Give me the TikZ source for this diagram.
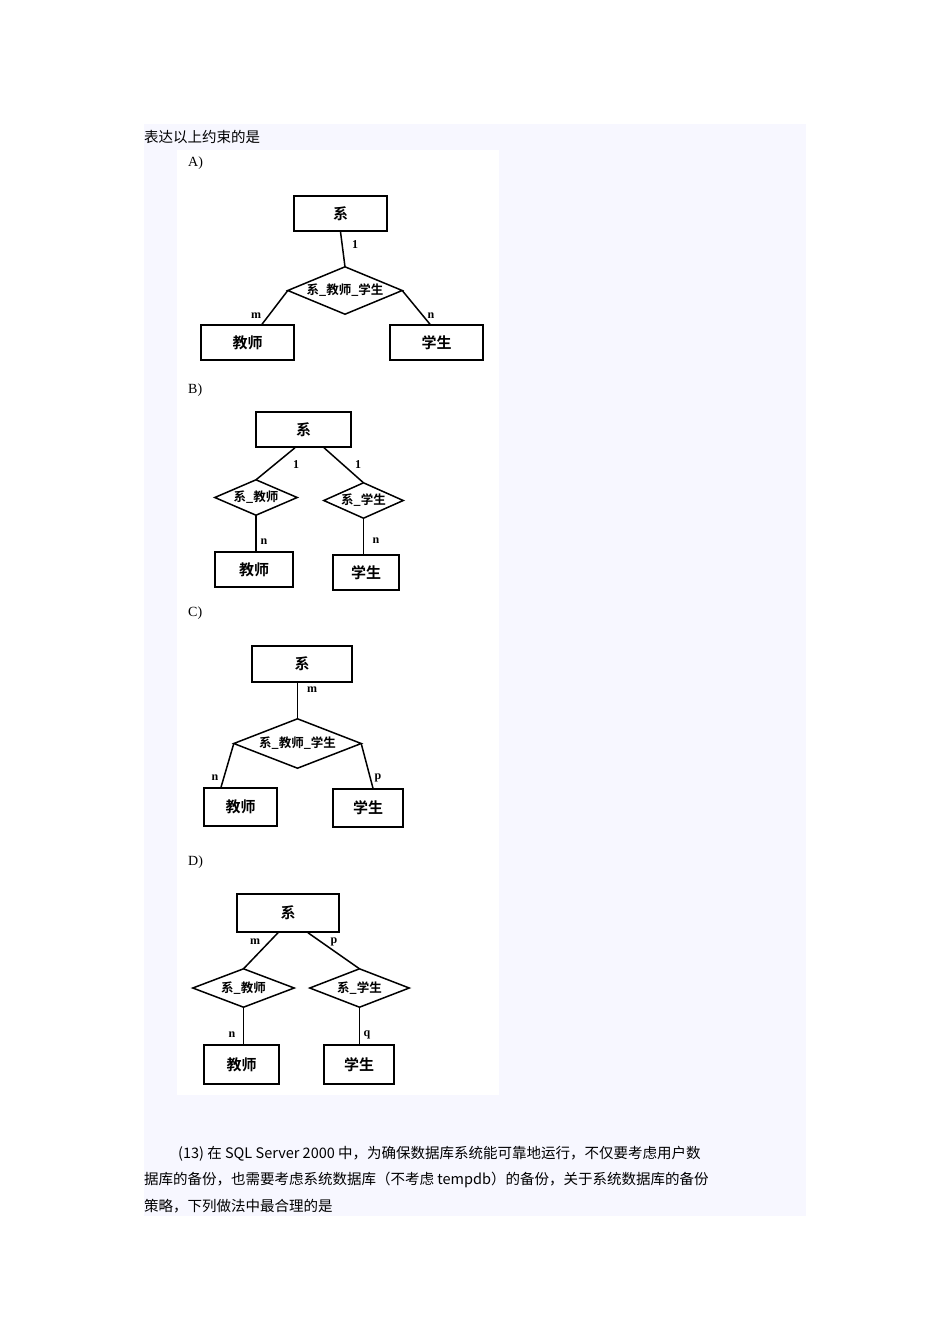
\documentclass[tikz,border=0pt]{standalone}
\usepackage{fontspec}
\setmainfont{DejaVu Sans}
\newfontfamily\cj{Noto Sans CJK SC}
\newfontfamily\cjb{Noto Sans CJK SC Bold}
\newfontfamily\serifx{Liberation Serif}
\begin{document}
\begin{tikzpicture}[x=1pt,y=-1pt,
  ent/.style={draw,line width=1.5pt,rectangle,inner sep=0pt,font=\cjb\fontsize{15}{15}\selectfont},
  rel/.style={rectangle,inner sep=0pt,font=\cjb\fontsize{12.5}{12.5}\selectfont},
  ln/.style={line width=1.5pt,line join=miter},
  lab/.style={font=\serifx\fontsize{12}{12}\selectfont\bfseries,inner sep=0pt},
  partlab/.style={font=\serifx\fontsize{14}{14}\selectfont,anchor=west,inner sep=0pt},
  txt/.style={font=\cj\fontsize{14.5}{14.5}\selectfont,anchor=west,inner sep=0pt}]
\useasboundingbox (0,0) rectangle (950,1344);
\fill[white] (0,0) rectangle (950,1344);
\fill[blue!3!white] (144,124) rectangle (806,1216);
\fill[white] (177,150) rectangle (499,1095);
\node[txt] (h) at (144,137) {表达以上约束的是};
% A
\node[partlab] (ca) at (188,163) {A)};
\node[ent,minimum width=93,minimum height=35] (a1) at (340.5,213.5) {系};
\node[rel,minimum width=114,minimum height=47] (ad) at (345,290.5) {系\_教师\_学生};
\draw[ln] (ad.north) -- (ad.east) -- (ad.south) -- (ad.west) -- cycle;
\node[ent,minimum width=93,minimum height=35] (a2) at (247.5,342.5) {教师};
\node[ent,minimum width=93,minimum height=35] (a3) at (436.5,342.5) {学生};
\draw[ln] (a1.south) -- (ad.north);
\draw[ln] (ad.west) -- ([xshift=14.5]a2.north);
\draw[ln] (ad.east) -- ([xshift=-6.5]a3.north);
\node[lab] (la1) at (355,245) {1};
\node[lab] (la2) at (256,316) {m};
\node[lab] (la3) at (431,316) {n};
% B
\node[partlab] (cb) at (188,390) {B)};
\node[ent,minimum width=95,minimum height=35] (b1) at (303.5,429.5) {系};
\node[rel,minimum width=82,minimum height=35] (bd1) at (256,497.5) {系\_教师};
\draw[ln] (bd1.north) -- (bd1.east) -- (bd1.south) -- (bd1.west) -- cycle;
\node[rel,minimum width=79,minimum height=35] (bd2) at (363.5,500.5) {系\_学生};
\draw[ln] (bd2.north) -- (bd2.east) -- (bd2.south) -- (bd2.west) -- cycle;
\node[ent,minimum width=78,minimum height=35] (b2) at (254,569.5) {教师};
\node[ent,minimum width=66,minimum height=35] (b3) at (366,572.5) {学生};
\draw[ln] ([xshift=-8.5]b1.south) -- (bd1.north);
\draw[ln] ([xshift=20.5]b1.south) -- (bd2.north);
\draw[ln] (bd1.south) -- (bd1.south |- b2.north);
\draw[ln] (bd2.south) -- (bd2.south |- b3.north);
\node[lab] (lb1) at (296,465) {1};
\node[lab] (lb2) at (358,465) {1};
\node[lab] (lb3) at (264,542) {n};
\node[lab] (lb4) at (376,541) {n};
% C
\node[partlab] (cc) at (188,613) {C)};
\node[ent,minimum width=100,minimum height=36] (c1) at (302,664) {系};
\node[rel,minimum width=127,minimum height=49] (cd) at (297.5,743.5) {系\_教师\_学生};
\draw[ln] (cd.north) -- (cd.east) -- (cd.south) -- (cd.west) -- cycle;
\node[ent,minimum width=73,minimum height=38] (c2) at (240.5,807) {教师};
\node[ent,minimum width=70,minimum height=38] (c3) at (368,808) {学生};
\draw[ln] (cd.north) -- (cd.north |- c1.south);
\draw[ln] (cd.west) -- ([xshift=-19.5]c2.north);
\draw[ln] (cd.east) -- ([xshift=5]c3.north);
\node[lab] (lc1) at (312,690) {m};
\node[lab] (lc2) at (215,778) {n};
\node[lab] (lc3) at (378,778) {p};
% D
\node[partlab] (cd0) at (188,862) {D)};
\node[ent,minimum width=102,minimum height=38] (d1) at (288,913) {系};
\node[rel,minimum width=101,minimum height=38] (dd1) at (243.5,988) {系\_教师};
\draw[ln] (dd1.north) -- (dd1.east) -- (dd1.south) -- (dd1.west) -- cycle;
\node[rel,minimum width=99,minimum height=38] (dd2) at (359.5,988) {系\_学生};
\draw[ln] (dd2.north) -- (dd2.east) -- (dd2.south) -- (dd2.west) -- cycle;
\node[ent,minimum width=75,minimum height=39] (d2) at (241.5,1064.5) {教师};
\node[ent,minimum width=70,minimum height=39] (d3) at (359,1064.5) {学生};
\draw[ln] ([xshift=-10]d1.south) -- (dd1.north);
\draw[ln] ([xshift=20]d1.south) -- (dd2.north);
\draw[ln] (dd1.south) -- (dd1.south |- d2.north);
\draw[ln] (dd2.south) -- (dd2.south |- d3.north);
\node[lab] (ld1) at (255,942) {m};
\node[lab] (ld2) at (334,942) {p};
\node[lab] (ld3) at (232,1035) {n};
\node[lab] (ld4) at (367,1035) {q};
% bottom text
\node[txt] (t1) at (178,1154) {(13) 在 SQL Server 2000 中，为确保数据库系统能可靠地运行，不仅要考虑用户数};
\node[txt] (t2) at (144,1180) {据库的备份，也需要考虑系统数据库（不考虑 tempdb）的备份，关于系统数据库的备份};
\node[txt] (t3) at (144,1206) {策略，下列做法中最合理的是};
\end{tikzpicture}
\end{document}
